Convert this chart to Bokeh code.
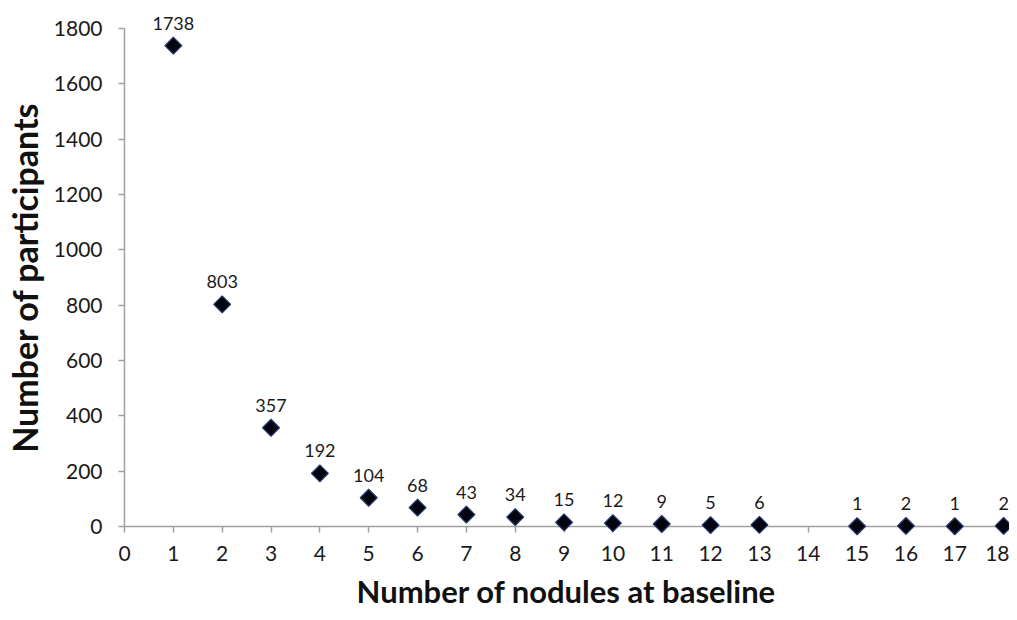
import math
from bokeh.plotting import figure
from bokeh.models import ColumnDataSource, FixedTicker, Range1d
from bokeh.core.properties import value
from bokeh.embed import file_html
from bokeh.resources import INLINE

nodules = [1, 2, 3, 4, 5, 6, 7, 8, 9, 10, 11, 12, 13, 15, 16, 17, 18]
participants = [1738, 803, 357, 192, 104, 68, 43, 34, 15, 12, 9, 5, 6, 1, 2, 1, 2]
labels = [str(v) for v in participants]
x_ticks = list(range(0, 19))
y_ticks = list(range(0, 2000, 200))

FONT = "Lato"

src = ColumnDataSource(dict(x=nodules, y=participants, lab=labels))

p = figure(width=1009, height=612, output_backend="svg", toolbar_location=None,
           x_range=Range1d(0, 18.1), y_range=Range1d(0, 1800),
           min_border_left=123, min_border_right=1, min_border_top=28, min_border_bottom=79)
p.outline_line_color = None
p.xgrid.visible = False
p.ygrid.visible = False

r = p.scatter("x", "y", source=src, marker="square", size=12, angle=math.pi / 4,
              fill_color="#05050f", line_color="#2a3a70", line_width=1.2)
r.level = "overlay"
t = p.text("x", "y", text="lab", source=src, text_align="center", text_baseline="bottom",
           y_offset=-16, text_font=value(FONT), text_font_size="18px", text_color="#1a1a1a")
t.level = "overlay"

for ax in (p.xaxis[0], p.yaxis[0]):
    ax.axis_line_color = "#a0a0a0"
    ax.axis_line_width = 1.5
    ax.major_tick_line_color = "#a0a0a0"
    ax.major_tick_line_width = 1.5
    ax.major_tick_out = 6
    ax.major_tick_in = 0
    ax.minor_tick_line_color = None
    ax.major_label_text_font = FONT
    ax.major_label_text_font_size = "21px"
    ax.major_label_text_color = "#1a1a1a"
    ax.axis_label_text_font = FONT
    ax.axis_label_text_font_style = "bold"
    ax.axis_label_text_color = "#111111"

p.xaxis.axis_label_text_font_size = "31px"
p.yaxis.axis_label_text_font_size = "34px"
p.xaxis.ticker = FixedTicker(ticks=x_ticks)
p.yaxis.ticker = FixedTicker(ticks=y_ticks)
p.xaxis.axis_label = "Number of nodules at baseline"
p.yaxis.axis_label = "Number of participants"
p.xaxis.major_label_standoff = 13
p.xaxis.axis_label_standoff = 8
p.yaxis.major_label_standoff = 16
p.yaxis.axis_label_standoff = 6

open("out.html", "w").write(file_html(p, INLINE))
